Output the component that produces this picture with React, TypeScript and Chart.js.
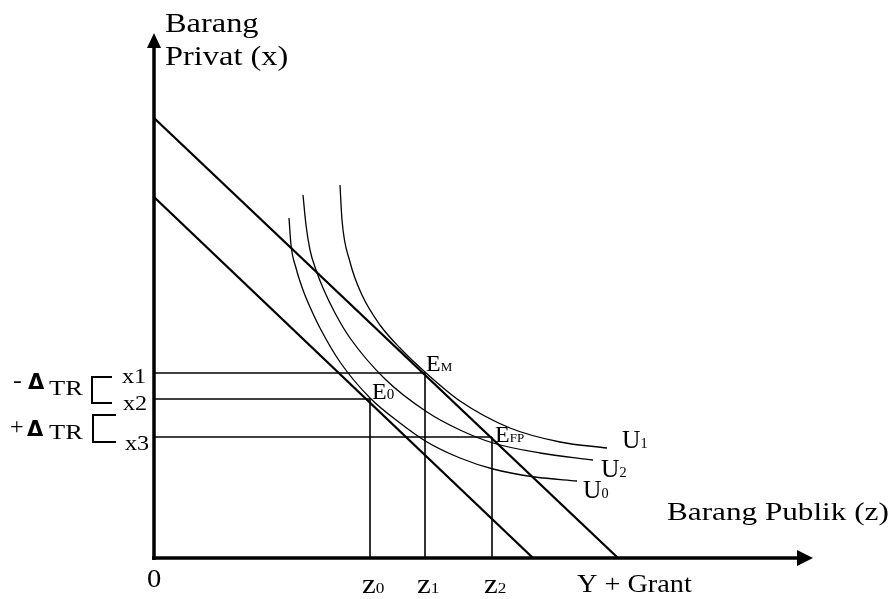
import React, { useEffect, useRef } from 'react';
import { Chart, registerables } from 'chart.js';

Chart.register(...registerables);

// ---- Data (units: distance from the origin of the diagram) ----
const axisXEnd = 659;
const axisYEnd = 525;

const outerBudgetX = [0, 464];
const outerBudgetY = [440, 0];
const innerBudgetX = [0, 379];
const innerBudgetY = [361, 0];

const xLevelNames = ['x1', 'x2', 'x3'];
const xLevelValues = [185, 159, 121];
const zLevelSubs = ['0', '1', '2'];
const zLevelValues = [216, 271, 338];

const u1X = [186, 188, 196, 208, 226, 246, 271, 306, 356, 406, 453];
const u1Y = [373, 338, 296, 263, 233, 210, 186, 157, 130, 116, 110];
const u2X = [149, 152, 156, 162, 169, 181, 196, 231, 273, 306, 339, 386, 439];
const u2Y = [363, 333, 308, 288, 270, 245, 220, 179, 146, 128, 115, 105, 98];
const u0X = [135, 137, 142, 149, 156, 166, 186, 216, 246, 273, 306, 339, 381, 423];
const u0Y = [340, 313, 290, 268, 251, 230, 196, 160, 135, 116, 100, 89, 81, 77];

const curveNames = ['U1', 'U2', 'U0'];

const SERIF = '"Liberation Serif", "Times New Roman", serif';
const SANS = '"DejaVu Sans", sans-serif';

const pts = (xs: number[], ys: number[]) => xs.map((x, i) => ({ x, y: ys[i] }));

const annotPlugin = {
  id: 'annot',
  beforeDraw(chart: any) {
    const ctx = chart.ctx;
    ctx.save();
    ctx.fillStyle = '#ffffff';
    ctx.fillRect(0, 0, chart.width, chart.height);
    ctx.restore();
  },
  afterDatasetsDraw(chart: any) {
    const ctx = chart.ctx as CanvasRenderingContext2D;
    const xs = chart.scales.x;
    const ys = chart.scales.y;
    const px = (v: number) => xs.getPixelForValue(v);
    const py = (v: number) => ys.getPixelForValue(v);
    ctx.save();
    ctx.fillStyle = '#000';
    ctx.strokeStyle = '#000';

    // arrowheads
    const ox = px(0);
    const oy = py(0);
    const tipY = py(axisYEnd);
    ctx.beginPath();
    ctx.moveTo(ox, tipY);
    ctx.lineTo(ox - 7, tipY + 15);
    ctx.lineTo(ox + 7, tipY + 15);
    ctx.closePath();
    ctx.fill();
    const tipX = px(axisXEnd);
    ctx.beginPath();
    ctx.moveTo(tipX, oy);
    ctx.lineTo(tipX - 16, oy - 8);
    ctx.lineTo(tipX - 16, oy + 8);
    ctx.closePath();
    ctx.fill();

    const txt = (s: string, x: number, y: number, size: number, stretch = 1.18, fam = SERIF, weight = '') => {
      ctx.save();
      ctx.font = `${weight} ${size}px ${fam}`.trim();
      ctx.textBaseline = 'alphabetic';
      ctx.textAlign = 'left';
      ctx.translate(x, y);
      ctx.scale(stretch, 1);
      ctx.fillText(s, 0, 0);
      const w = ctx.measureText(s).width * stretch;
      ctx.restore();
      return w;
    };
    const sub = (main: string, s: string, x: number, y: number, size: number, subSize: number, stretch = 1.15) => {
      const w = txt(main, x, y, size, stretch);
      txt(s, x + w, y, subSize, stretch);
    };

    // axis titles
    txt('Barang', px(11), py(526), 27, 1.2);
    txt('Privat (x)', px(11), py(493), 27, 1.2);
    txt('Barang Publik (z)', px(513), py(38), 26, 1.2);
    txt('Y + Grant', px(423), py(-34), 25, 1.13);
    txt('0', px(-7), py(-29), 26, 1.1);

    // z ticks
    zLevelValues.forEach((z, i) => sub('z', zLevelSubs[i], px(z - 8), py(-35), 27, 15, 1.15));

    // x levels
    const xOff = [-32, -31, -29];
    const yOff = [-10, -11, -13];
    xLevelValues.forEach((v, i) => txt(xLevelNames[i], px(xOff[i]), py(v + yOff[i]), 22, 1.1));

    // equilibrium labels
    sub('E', '0', px(zLevelValues[0] + 2), py(xLevelValues[1]), 24, 15, 1.0);
    sub('E', 'M', px(zLevelValues[1] + 1), py(xLevelValues[0] + 2), 24, 13, 1.0);
    sub('E', 'FP', px(zLevelValues[2] + 3), py(xLevelValues[2] - 5), 24, 13, 1.0);

    // curve labels
    const ends = [
      [u1X[u1X.length - 1] + 15, u1Y[u1Y.length - 1]],
      [u2X[u2X.length - 1] + 8, u2Y[u2Y.length - 1] - 17],
      [u0X[u0X.length - 1] + 6, u0Y[u0Y.length - 1] - 17],
    ];
    curveNames.forEach((n, i) => sub(n[0], n[1], px(ends[i][0]), py(ends[i][1]), 25, 14, 1.02));

    // brackets
    ctx.lineWidth = 2;
    const bracket = (x0: number, x1: number, yTop: number, yBot: number) => {
      ctx.beginPath();
      ctx.moveTo(px(x1), py(yTop));
      ctx.lineTo(px(x0), py(yTop));
      ctx.lineTo(px(x0), py(yBot));
      ctx.lineTo(px(x1), py(yBot));
      ctx.stroke();
    };
    bracket(-62, -42, xLevelValues[0] - 4, xLevelValues[1] - 4);
    bracket(-61, -38, xLevelValues[2] + 22, xLevelValues[2] - 5);

    // delta TR labels
    txt('-', px(-141), py(170), 24, 1.1);
    txt('Δ', px(-126), py(169), 21, 1.0, SANS, 'bold');
    txt('TR', px(-105), py(163), 22, 1.2);
    txt('+', px(-144), py(124), 24, 1.0);
    txt('Δ', px(-127), py(122), 21, 1.0, SANS, 'bold');
    txt('TR', px(-105), py(119), 22, 1.2);

    ctx.restore();
  },
};

export default function App() {
  const ref = useRef<HTMLCanvasElement | null>(null);

  useEffect(() => {
    if (!ref.current) return;
    const black = '#000000';
    const seg = (xsArr: number[], ysArr: number[], w: number) => ({
      data: pts(xsArr, ysArr),
      showLine: true,
      borderColor: black,
      borderWidth: w,
      pointRadius: 0,
      fill: false,
    });
    const curve = (xsArr: number[], ysArr: number[]) => ({
      ...seg(xsArr, ysArr, 1.3),
      cubicInterpolationMode: 'monotone' as const,
    });

    // drop lines pairing: x1-z1, x2-z0, x3-z2
    const pairs = [
      [xLevelValues[0], zLevelValues[1]],
      [xLevelValues[1], zLevelValues[0]],
      [xLevelValues[2], zLevelValues[2]],
    ];
    const dropSets: any[] = [];
    pairs.forEach(([xv, zv]) => {
      dropSets.push(seg([0, zv], [xv, xv], 1.6));
      dropSets.push(seg([zv, zv], [0, xv], 1.6));
    });

    const chart = new Chart(ref.current, {
      type: 'scatter',
      data: {
        datasets: [
          ...dropSets,
          seg(outerBudgetX, outerBudgetY, 2.3),
          seg(innerBudgetX, innerBudgetY, 2.3),
          curve(u1X, u1Y),
          curve(u2X, u2Y),
          curve(u0X, u0Y),
          seg([0, 0], [-2, axisYEnd - 14], 3.5),
          seg([-2, axisXEnd - 15], [0, 0], 3.5),
        ] as any,
      },
      options: {
        animation: false,
        responsive: false,
        devicePixelRatio: 1,
        events: [],
        layout: { padding: 0 },
        plugins: { legend: { display: false }, tooltip: { enabled: false } },
        scales: {
          x: { type: 'linear', min: -154, max: 742, display: false },
          y: { type: 'linear', min: -41, max: 558, display: false },
        },
      },
      plugins: [annotPlugin],
    });
    return () => chart.destroy();
  }, []);

  return (
    <div style={{ position: 'absolute', left: 0, top: 0, width: 896, height: 599 }}>
      <canvas ref={ref} width={896} height={599} style={{ width: 896, height: 599 }} />
    </div>
  );
}
